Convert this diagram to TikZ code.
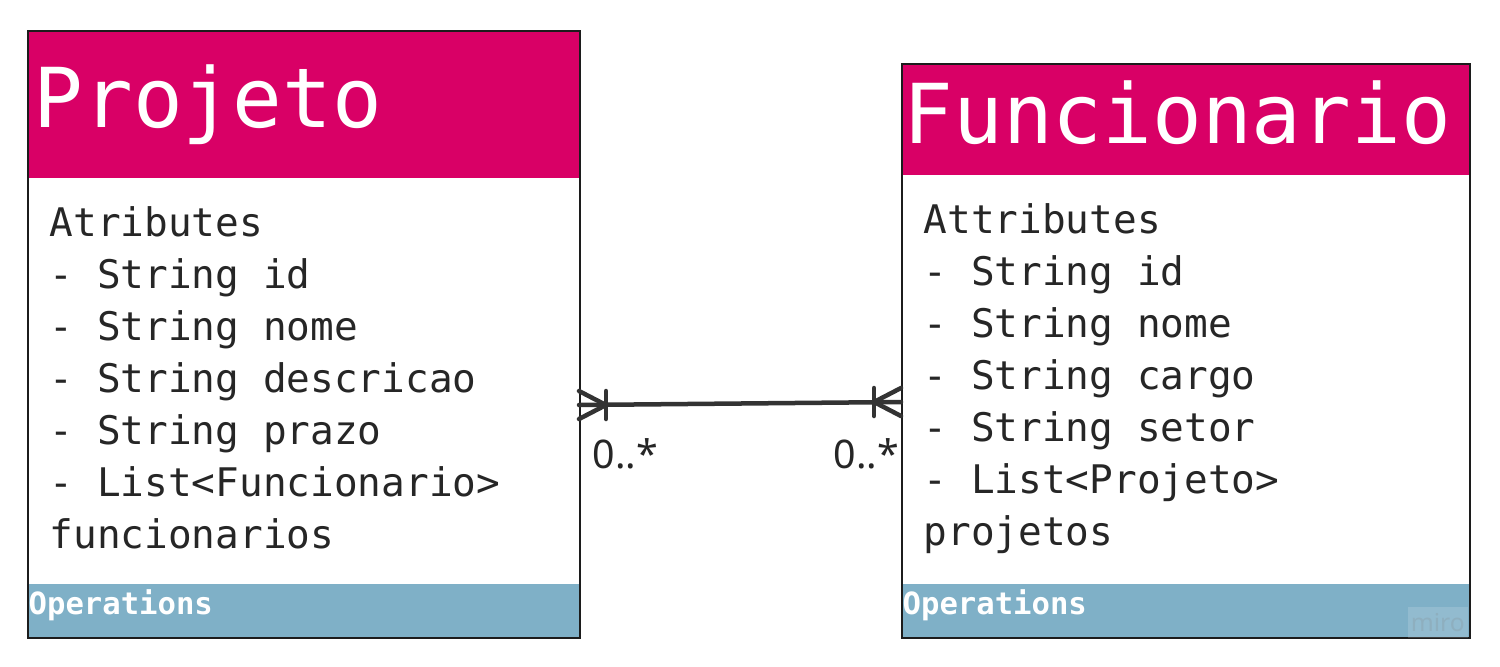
\documentclass[tikz,border=0pt]{standalone}
\usepackage{fontspec}
\setmonofont{DejaVu Sans Mono}
\setsansfont{Noto Sans}
\usetikzlibrary{positioning}

\definecolor{headpink}{HTML}{D90066}
\definecolor{opsblue}{HTML}{7FB0C7}
\definecolor{boxline}{HTML}{1C1C1C}
\definecolor{linkgray}{HTML}{333333}

\begin{document}
\begin{tikzpicture}[x=0.01cm,y=-0.01cm,
    classbox/.style={draw=boxline,line width=0.02cm,anchor=north west,inner sep=0pt},
    headbox/.style={fill=headpink,anchor=north west,inner sep=0pt},
    opsbox/.style={fill=opsblue,anchor=north west,inner sep=0pt,minimum height=0.54cm},
    title/.style={text=white,anchor=base west,inner sep=0pt,
                  font=\ttfamily\fontsize{23.5}{28}\selectfont},
    attr/.style={text=black!85,anchor=base west,inner sep=0pt,
                 font=\ttfamily\fontsize{11.2}{14}\selectfont},
    ops/.style={text=white,anchor=base west,inner sep=0pt,
                font=\ttfamily\bfseries\fontsize{8.7}{10}\selectfont},
    link/.style={draw=linkgray,line width=0.045cm,line cap=round},
    mult/.style={text=black!85,anchor=base west,inner sep=0pt,
                 font=\sffamily\fontsize{11.2}{13}\selectfont}]

  \useasboundingbox[fill=white] (0,0) rectangle (1500,666);

  % Projeto
  \node[headbox,minimum width=5.52cm,minimum height=1.47cm] (projetoHead) at (27,30) {};
  \node[opsbox,minimum width=5.52cm] (projetoOps) at (27,583) {};
  \node[classbox,minimum width=5.52cm,minimum height=6.07cm] (projeto) at (27,30) {};
  \node[title] (projetoName) at (33,127) {Projeto};
  \foreach \line [count=\i from 0] in {Atributes,- String id,- String nome,
      - String descricao,- String prazo,- List<Funcionario>,funcionarios}
    \node[attr] (projetoAttr\i) at (49,236+52*\i) {\line};
  \node[ops] (projetoOpsText) at (28,614) {Operations};

  % Funcionario
  \node[headbox,minimum width=5.68cm,minimum height=1.11cm] (funcHead) at (901,63) {};
  \node[opsbox,minimum width=5.68cm] (funcOps) at (901,583) {};
  \node[classbox,minimum width=5.68cm,minimum height=5.74cm] (func) at (901,63) {};
  \node[title] (funcName) at (903,143) {Funcionario};
  \foreach \line [count=\i from 0] in {Attributes,- String id,- String nome,
      - String cargo,- String setor,- List<Projeto>,projetos}
    \node[attr] (funcAttr\i) at (923,233+52*\i) {\line};
  \node[ops] (funcOpsText) at (902,614) {Operations};

  % watermark
  \node[fill=white,fill opacity=0.15,text opacity=0.2,text=gray,anchor=north west,
        minimum width=0.6cm,minimum height=0.31cm,inner sep=0pt,
        font=\sffamily\fontsize{7}{8}\selectfont] (miro) at (1407,606) {miro};

  % many-to-many link
  \coordinate (pLink) at (579,405);
  \coordinate (fLink) at (901,402);
  \draw[link] (pLink) -- (fLink);
  \draw[link] (pLink) ++(0,-14) -- ++(27,14) -- ++(-27,14);
  \draw[link] (pLink) ++(27,-14) -- ++(0,28);
  \draw[link] (fLink) ++(0,-14) -- ++(-27,14) -- ++(27,14);
  \draw[link] (fLink) ++(-27,-14) -- ++(0,28);

  \node[mult] (pMult) at (592,468) {0..*};
  \node[mult] (fMult) at (833,468) {0..*};
\end{tikzpicture}
\end{document}
